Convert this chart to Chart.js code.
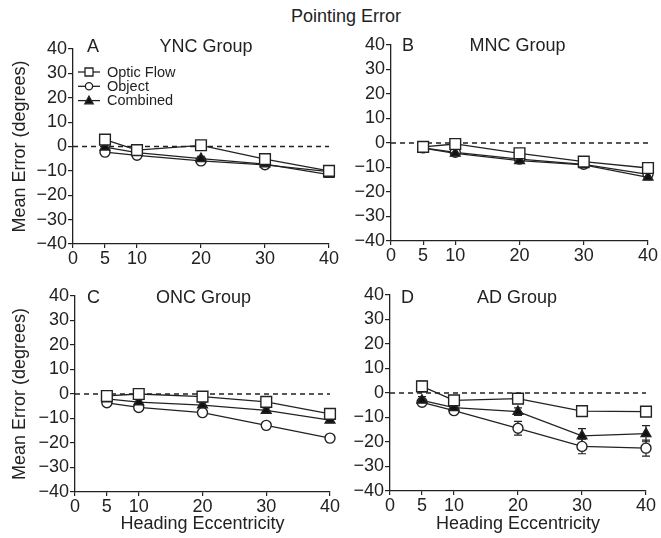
<!DOCTYPE html>
<html><head><meta charset="utf-8">
<script src="https://cdn.jsdelivr.net/npm/chart.js@4"></script>
<style>
body{margin:0;background:#fff;width:661px;height:538px;position:relative;overflow:hidden;font-family:"Liberation Sans",Arial,sans-serif;}
canvas{position:absolute;}
#title{position:absolute;left:246px;width:200px;text-align:center;top:6px;font-size:18px;color:#222;line-height:20px;}
</style></head><body>
<div id="title">Pointing Error</div>
<canvas id="cA"></canvas>
<canvas id="cB"></canvas>
<canvas id="cC"></canvas>
<canvas id="cD"></canvas>
<script>
// ---- data ----
const xValues = [5, 10, 20, 30, 40];
const xTickValues = [0, 5, 10, 20, 30, 40];
const seriesNames = ['Optic Flow', 'Object', 'Combined'];

const yncOptic    = [2.8, -1.5, 0.5, -5.2, -10.0];
const yncObject   = [-2.3, -3.6, -5.9, -7.5, -10.3];
const yncCombined = [-0.3, -2.5, -5.0, -7.2, -11.5];
const yncOpticErr    = [1, 1, 1, 1, 1];
const yncObjectErr   = [1, 1, 1, 1, 1];
const yncCombinedErr = [1, 1, 1, 1, 1.2];

const mncOptic    = [-1.6, -0.4, -4.2, -7.6, -10.2];
const mncObject   = [-2.0, -3.8, -6.6, -8.7, -12.8];
const mncCombined = [-2.1, -4.2, -7.2, -8.9, -14.0];
const mncOpticErr    = [1, 1, 1, 1, 1];
const mncObjectErr   = [1, 1, 1, 1, 1];
const mncCombinedErr = [1, 1, 1, 1, 1];

const oncOptic    = [-0.8, 0.0, -1.1, -3.2, -8.1];
const oncObject   = [-3.6, -5.5, -7.6, -12.8, -18.0];
const oncCombined = [-2.0, -3.3, -4.5, -6.7, -10.7];
const oncOpticErr    = [1, 1, 1, 1, 1];
const oncObjectErr   = [1, 1, 1, 1, 1.2];
const oncCombinedErr = [1, 1, 1, 1, 1];

const adOptic    = [2.7, -3.0, -2.3, -7.4, -7.6];
const adObject   = [-3.8, -7.2, -14.4, -21.8, -22.5];
const adCombined = [-3.0, -6.0, -7.6, -17.5, -16.6];
const adOpticErr    = [2.2, 1.5, 1.5, 1.8, 1.5];
const adObjectErr   = [1, 1, 2.8, 3.0, 3.3];
const adCombinedErr = [1.5, 1.2, 1.5, 3.0, 3.3];

const INK = '#222';
const FONT = '"Liberation Sans", Arial, sans-serif';

// error bars drawn through the chart's scales
const errorBars = {
  id: 'errorBars',
  beforeDatasetsDraw(chart) {
    const ctx = chart.ctx, xs = chart.scales.x, ys = chart.scales.y;
    chart.data.datasets.forEach(ds => {
      if (!ds.errors) return;
      ctx.save();
      ctx.strokeStyle = INK; ctx.lineWidth = 1.2;
      ds.data.forEach((p, j) => {
        const e = ds.errors[j]; if (!e) return;
        const x = xs.getPixelForValue(p.x);
        const y1 = ys.getPixelForValue(p.y + e), y2 = ys.getPixelForValue(p.y - e);
        ctx.beginPath();
        ctx.moveTo(x, y1); ctx.lineTo(x, y2);
        ctx.moveTo(x - 4, y1); ctx.lineTo(x + 4, y1);
        ctx.moveTo(x - 4, y2); ctx.lineTo(x + 4, y2);
        ctx.stroke();
      });
      ctx.restore();
    });
  }
};

// panel letter + group name
const panelText = {
  id: 'panelText',
  afterDraw(chart, args, o) {
    if (!o || !o.letter) return;
    const ctx = chart.ctx, ca = chart.chartArea;
    ctx.save();
    ctx.fillStyle = INK;
    ctx.font = '18px ' + FONT;
    ctx.textBaseline = 'alphabetic';
    ctx.textAlign = 'left';
    ctx.fillText(o.letter, ca.left + o.letterDx, o.baseline);
    ctx.textAlign = 'center';
    ctx.fillText(o.group, (ca.left + ca.right) / 2 + o.groupDx, o.baseline);
    ctx.restore();
  }
};

function drawMarker(ctx, kind, x, y, s) {
  ctx.beginPath();
  if (kind === 'rect') { ctx.rect(x - s, y - s, 2 * s, 2 * s); ctx.fillStyle = '#fff'; }
  else if (kind === 'circle') { ctx.arc(x, y, s, 0, Math.PI * 2); ctx.fillStyle = '#fff'; }
  else { ctx.moveTo(x, y - s * 1.1); ctx.lineTo(x + s * 1.05, y + s * 0.8); ctx.lineTo(x - s * 1.05, y + s * 0.8); ctx.closePath(); ctx.fillStyle = '#111'; }
  ctx.fill(); ctx.stroke();
}

const inLegend = {
  id: 'inLegend',
  afterDraw(chart, args, o) {
    if (!o || !o.show) return;
    const ctx = chart.ctx, ca = chart.chartArea;
    const kinds = ['rect', 'circle', 'triangle'];
    const sizes = [4, 3.6, 4];
    ctx.save();
    ctx.font = '14.5px ' + FONT;
    ctx.textBaseline = 'middle';
    ctx.textAlign = 'left';
    seriesNames.forEach((name, i) => {
      const y = ca.top + 23 + i * 14.3;
      ctx.strokeStyle = INK; ctx.lineWidth = 1.3;
      ctx.beginPath(); ctx.moveTo(ca.left + 5, y); ctx.lineTo(ca.left + 27, y); ctx.stroke();
      drawMarker(ctx, kinds[i], ca.left + 16, y, sizes[i]);
      ctx.fillStyle = INK;
      ctx.fillText(name, ca.left + 34, y + 0.5);
    });
    ctx.restore();
  }
};

function pts(arr) { return xValues.map((x, i) => ({ x: x, y: arr[i] })); }

function makePanel(cfg) {
  const cv = document.getElementById(cfg.id);
  cv.width = cfg.w; cv.height = cfg.h;
  cv.style.left = cfg.left + 'px'; cv.style.top = cfg.top + 'px';
  const lineBase = { borderColor: INK, borderWidth: 1.3, pointBorderColor: INK, pointBorderWidth: 1.4, tension: 0, fill: false, clip: false };
  new Chart(cv, {
    type: 'line',
    data: {
      datasets: [
        Object.assign({}, lineBase, { label: seriesNames[0], data: pts(cfg.optic), errors: cfg.opticErr, pointStyle: 'rect', pointRadius: 7.6, pointBackgroundColor: '#fff', order: 0 }),
        Object.assign({}, lineBase, { label: seriesNames[2], data: pts(cfg.combined), errors: cfg.combinedErr, pointStyle: 'triangle', pointRadius: 5.6, pointBackgroundColor: '#111', order: 1 }),
        Object.assign({}, lineBase, { label: seriesNames[1], data: pts(cfg.object), errors: cfg.objectErr, pointStyle: 'circle', pointRadius: 5, pointBackgroundColor: '#fff', order: 2 }),
        { label: 'zero', data: [{ x: 0, y: 0 }, { x: 40, y: 0 }], borderColor: INK, borderWidth: 1.3, borderDash: [5, 4], pointRadius: 0, order: 3 }
      ]
    },
    options: {
      responsive: false, animation: false, devicePixelRatio: 1,
      layout: { padding: { top: cfg.padTop, right: cfg.padRight, left: 0, bottom: 0 } },
      plugins: {
        legend: { display: false }, tooltip: { enabled: false }, title: { display: false },
        panelText: { letter: cfg.letter, group: cfg.group, baseline: cfg.labelY - cfg.top, letterDx: cfg.letterDx, groupDx: cfg.groupDx },
        inLegend: { show: !!cfg.legend }
      },
      scales: {
        x: {
          type: 'linear', min: 0, max: 40,
          afterBuildTicks: s => { s.ticks = xTickValues.map(v => ({ value: v })); },
          afterFit: s => { s.height = cfg.xH; },
          ticks: { autoSkip: false, maxRotation: 0, color: INK, font: { family: FONT, size: 18 }, padding: 0 },
          grid: { drawOnChartArea: false, drawTicks: true, tickLength: 4, color: INK, lineWidth: 1.2 },
          border: { display: true, color: INK, width: 1.3 },
          title: { display: !!cfg.xTitle, text: 'Heading Eccentricity', color: INK, font: { family: FONT, size: 18 }, padding: { top: 0, bottom: 3 } }
        },
        y: {
          min: -40, max: 40,
          afterFit: s => { s.width = cfg.yW; },
          ticks: { stepSize: 10, autoSkip: false, color: INK, font: { family: FONT, size: 18 }, padding: 1, callback: v => String(v).replace('-', '\u2212') },
          grid: { drawOnChartArea: false, drawTicks: true, tickLength: 5, color: INK, lineWidth: 1.2 },
          border: { display: true, color: INK, width: 1.3 },
          title: { display: !!cfg.yTitle, text: 'Mean Error (degrees)', color: INK, font: { family: FONT, size: 18 }, padding: { top: 9, bottom: 0 } }
        }
      }
    },
    plugins: [errorBars, panelText, inLegend]
  });
}

makePanel({ id: 'cA', left: 0, top: 30, w: 345, h: 244, padTop: 19, padRight: 16, yW: 73, xH: 30, yTitle: true, xTitle: false, legend: true,
  letter: 'A', group: 'YNC Group', labelY: 51.5, letterDx: 14, groupDx: 5,
  optic: yncOptic, object: yncObject, combined: yncCombined, opticErr: yncOpticErr, objectErr: yncObjectErr, combinedErr: yncCombinedErr });
makePanel({ id: 'cB', left: 330, top: 28, w: 331, h: 243, padTop: 17, padRight: 13, yW: 61, xH: 30, yTitle: false, xTitle: false,
  letter: 'B', group: 'MNC Group', labelY: 50.7, letterDx: 11, groupDx: -2,
  optic: mncOptic, object: mncObject, combined: mncCombined, opticErr: mncOpticErr, objectErr: mncObjectErr, combinedErr: mncCombinedErr });
makePanel({ id: 'cC', left: 0, top: 280, w: 345, h: 258, padTop: 16, padRight: 15, yW: 75, xH: 46, yTitle: true, xTitle: true,
  letter: 'C', group: 'ONC Group', labelY: 303, letterDx: 12, groupDx: 1,
  optic: oncOptic, object: oncObject, combined: oncCombined, opticErr: oncOpticErr, objectErr: oncObjectErr, combinedErr: oncCombinedErr });
makePanel({ id: 'cD', left: 330, top: 280, w: 331, h: 258, padTop: 15, padRight: 15, yW: 60, xH: 47, yTitle: false, xTitle: true,
  letter: 'D', group: 'AD Group', labelY: 302.7, letterDx: 11, groupDx: -1,
  optic: adOptic, object: adObject, combined: adCombined, opticErr: adOpticErr, objectErr: adObjectErr, combinedErr: adCombinedErr });
</script>
</body></html>
